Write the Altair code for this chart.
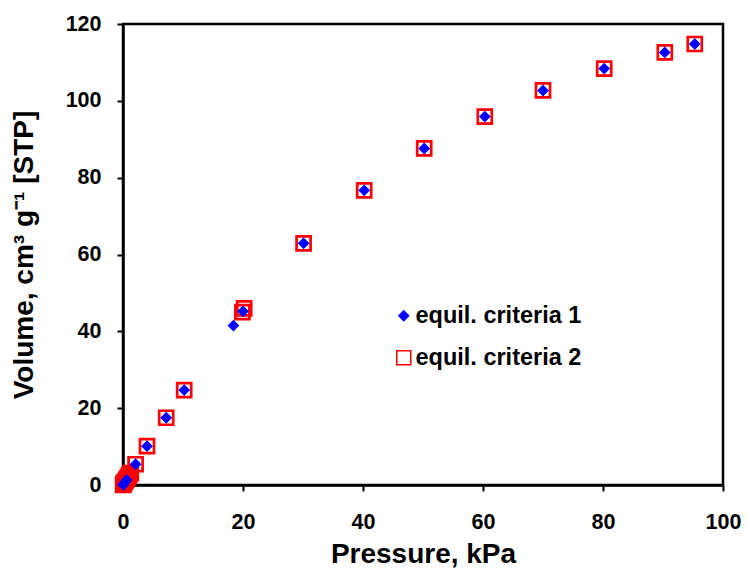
import altair as alt
import pandas as pd

# Series data
p1 = [0.02, 0.1, 0.3, 0.6, 2.1, 4.0, 7.2, 10.2, 18.4, 20.0, 30.1, 40.2, 50.2, 60.3, 70.0, 80.2, 90.3, 95.3]
v1 = [0.05, 0.2, 0.6, 1.3, 5.4, 10.1, 17.5, 24.7, 41.5, 45.2, 62.9, 76.7, 87.6, 95.9, 102.7, 108.4, 112.6, 114.8]

p2 = [0.02, 0.1, 0.2, 0.4, 0.6, 0.8, 1.0, 1.3, 2.1, 4.0, 7.2, 10.2, 19.9, 20.2, 30.1, 40.2, 50.2, 60.3, 70.0, 80.2, 90.3, 95.3]
v2 = [0.05, 0.3, 0.6, 1.0, 1.5, 2.0, 2.5, 3.1, 5.4, 10.1, 17.5, 24.7, 45.0, 46.0, 62.9, 76.7, 87.6, 95.9, 102.7, 108.4, 112.6, 114.8]

series_names = ["equil. criteria 1", "equil. criteria 2"]
x_ticks = [0, 20, 40, 60, 80, 100]
y_ticks = [0, 20, 40, 60, 80, 100, 120]

df = pd.concat([
    pd.DataFrame({"P": p2, "V": v2, "series": series_names[1]}),
    pd.DataFrame({"P": p1, "V": v1, "series": series_names[0]}),
], ignore_index=True)

FONT = "Liberation Sans"

legend = alt.Legend(
    title=None, orient="none", legendX=269, legendY=280,
    labelFont=FONT, labelFontSize=23.5, labelFontWeight="bold", labelColor="black",
    labelOffset=0, rowPadding=17, padding=0, labelLimit=400,
)

chart = alt.Chart(df).mark_point(opacity=1, strokeWidth=2.7).encode(
    x=alt.X("P:Q", scale=alt.Scale(domain=[0, 100], nice=False),
            axis=alt.Axis(title="Pressure, kPa", values=x_ticks, titleY=77,
                          titleBaseline="alphabetic", labelFlush=False)),
    y=alt.Y("V:Q", scale=alt.Scale(domain=[0, 120], nice=False),
            axis=alt.Axis(title="Volume, cm³ g⁻¹ [STP]", values=y_ticks,
                          titleX=-91, titleBaseline="alphabetic", labelFlush=False)),
    shape=alt.Shape("series:N", scale=alt.Scale(domain=series_names, range=["diamond", "square"]), legend=legend),
    fill=alt.Fill("series:N", scale=alt.Scale(domain=series_names, range=["#0000FF", "transparent"]), legend=legend),
    stroke=alt.Stroke("series:N", scale=alt.Scale(domain=series_names, range=["transparent", "#FF0000"]), legend=legend),
    size=alt.Size("series:N", scale=alt.Scale(domain=series_names, range=[140, 196]), legend=legend),
).properties(
    width=600, height=461,
    autosize=alt.AutoSizeParams(type="none"),
    padding={"left": 123, "top": 24, "right": 24, "bottom": 85},
).configure_view(
    stroke="black", strokeWidth=2.5
).configure_axis(
    grid=False, domainColor="black", domainWidth=2.5,
    tickColor="black", tickWidth=2, tickSize=6,
    labelFont=FONT, labelFontSize=21.5, labelFontWeight="bold", labelColor="black",
    titleFont=FONT, titleFontSize=28, titleFontWeight="bold", titleColor="black",
).configure_axisX(labelPadding=20).configure_axisY(labelPadding=16)

chart.save("out.html", embed_options={"renderer": "svg", "actions": False})
